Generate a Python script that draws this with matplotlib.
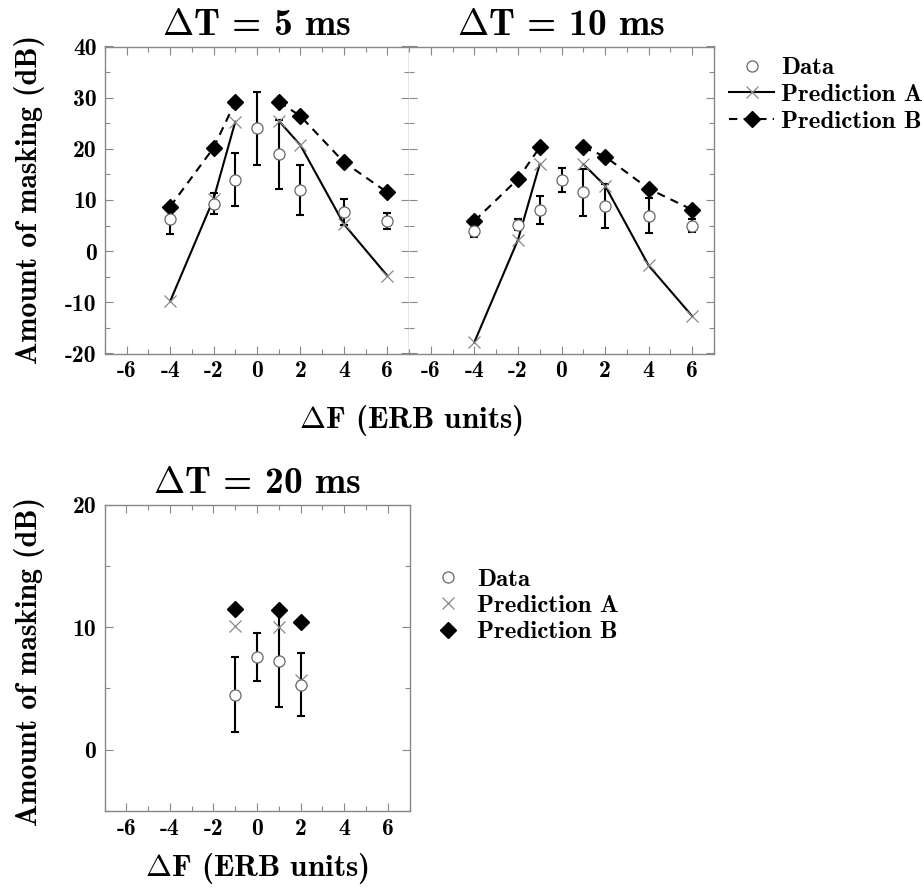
import numpy as np
import matplotlib
matplotlib.use("Agg")
import matplotlib.pyplot as plt
from matplotlib.lines import Line2D
from matplotlib.ticker import MultipleLocator

plt.rcParams["font.family"] = "cmb10"
plt.rcParams["mathtext.fontset"] = "cm"
plt.rcParams["axes.unicode_minus"] = False

# ----- data -----
df_vals = [-4, -2, -1, 0, 1, 2, 4, 6]

# dT = 5 ms
data5 = [6.2, 9.3, 14.0, 24.0, 18.9, 12.0, 7.7, 5.9]
err5 = [2.8, 2.0, 5.1, 7.1, 6.8, 4.9, 2.5, 1.5]
predA5 = [-9.8, 10.2, 25.3, np.nan, 25.5, 20.7, 5.3, -4.8]
predB5 = [8.7, 20.2, 29.2, np.nan, 29.2, 26.4, 17.4, 11.5]

# dT = 10 ms
data10 = [4.0, 5.2, 8.0, 13.9, 11.5, 8.9, 6.9, 5.0]
err10 = [1.3, 1.1, 2.7, 2.3, 4.6, 4.3, 3.4, 1.35]
predA10 = [-17.8, 2.2, 17.0, np.nan, 17.0, 12.8, -2.8, -12.7]
predB10 = [5.9, 14.1, 20.3, np.nan, 20.3, 18.5, 12.2, 8.1]

# dT = 20 ms
df20 = [-1, 0, 1, 2]
data20 = [4.5, 7.55, 7.27, 5.3]
err20 = [3.05, 1.95, 3.8, 2.55]
df20_pred = [-1, 1, 2]
predA20 = [10.1, 10.0, 5.7]
predB20 = [11.45, 11.4, 10.4]

GRAY = "#888888"
W, H = 922, 892


def px_axes(fig, left, top, width, height):
    return fig.add_axes([left / W, 1 - (top + height) / H, width / W, height / H])


def style_axes(ax, ylim, ymajor, yminor, show_ylabels=True):
    ax.set_xlim(-7, 7)
    ax.set_ylim(*ylim)
    ax.xaxis.set_major_locator(MultipleLocator(2))
    ax.xaxis.set_minor_locator(MultipleLocator(1))
    ax.yaxis.set_major_locator(MultipleLocator(ymajor))
    ax.yaxis.set_minor_locator(MultipleLocator(yminor))
    ax.tick_params(which="both", direction="in", top=True, right=True,
                   color=GRAY, width=0.8, labelsize=17)
    ax.tick_params(which="major", length=6)
    ax.tick_params(which="minor", length=3.5)
    ax.tick_params(axis="y", pad=6)
    ax.tick_params(axis="x", pad=5)
    if not show_ylabels:
        ax.tick_params(labelleft=False)
    for s in ax.spines.values():
        s.set_color(GRAY)
        s.set_linewidth(1.0)


def draw_panel(ax, data, err, predA, predB):
    ax.plot(df_vals, predA, color="black", linestyle="-", linewidth=1.5,
            marker="x", markersize=9, markeredgecolor=GRAY, markeredgewidth=0.9, zorder=3)
    ax.plot(df_vals, predB, color="black", linestyle="--", linewidth=1.5,
            dashes=(4, 3), marker="D", markersize=8, markerfacecolor="black",
            markeredgecolor="black", zorder=4)
    ax.errorbar(df_vals, data, yerr=err, fmt="none", ecolor="black",
                elinewidth=1.5, capsize=2.6, capthick=1.5, zorder=2)
    ax.plot(df_vals, data, linestyle="none", marker="o", markersize=8,
            markerfacecolor="white", markeredgecolor="#666666",
            markeredgewidth=0.9, zorder=5)


fig = plt.figure(figsize=(W / 100, H / 100), dpi=100)

ax1 = px_axes(fig, 105, 46.5, 304, 307)
ax2 = px_axes(fig, 409, 46.5, 305, 307)
ax3 = px_axes(fig, 104.5, 504.5, 305, 306.5)

draw_panel(ax1, data5, err5, predA5, predB5)
draw_panel(ax2, data10, err10, predA10, predB10)

# dT = 20 ms: markers only
ax3.errorbar(df20, data20, yerr=err20, fmt="none", ecolor="black",
             elinewidth=1.5, capsize=2.6, capthick=1.5, zorder=2)
ax3.plot(df20_pred, predA20, linestyle="none", marker="x", markersize=9,
         markeredgecolor=GRAY, markeredgewidth=0.9, zorder=3)
ax3.plot(df20_pred, predB20, linestyle="none", marker="D", markersize=8,
         color="black", zorder=4)
ax3.plot(df20, data20, linestyle="none", marker="o", markersize=8,
         markerfacecolor="white", markeredgecolor="#666666",
         markeredgewidth=0.9, zorder=5)

style_axes(ax1, (-20, 40), 10, 5)
style_axes(ax2, (-20, 40), 10, 5, show_ylabels=False)
style_axes(ax3, (-5, 20), 10, 5)
ax2.spines["left"].set_visible(False)

ax1.set_title(r"$\mathbf{\Delta}$T = 5 ms", fontsize=27, pad=8)
ax2.set_title(r"$\mathbf{\Delta}$T = 10 ms", fontsize=27, pad=8)
ax3.set_title(r"$\mathbf{\Delta}$T = 20 ms", fontsize=27, pad=8)

fig.text(30 / W, 1 - 199 / H, "Amount of masking (dB)", rotation=90,
         ha="center", va="center", fontsize=21.5)
fig.text(30 / W, 1 - 661 / H, "Amount of masking (dB)", rotation=90,
         ha="center", va="center", fontsize=21.5)
fig.text(411 / W, 1 - 421 / H, r"$\mathbf{\Delta}$F (ERB units)",
         ha="center", va="center", fontsize=22.5)
fig.text(257 / W, 1 - 869 / H, r"$\mathbf{\Delta}$F (ERB units)",
         ha="center", va="center", fontsize=22.5)

# legends
h_data = Line2D([], [], linestyle="none", marker="o", markersize=8,
                markerfacecolor="white", markeredgecolor="#666666", markeredgewidth=0.9)
h_a = Line2D([], [], color="black", linewidth=1.5, marker="x", markersize=9,
             markeredgecolor=GRAY, markeredgewidth=0.9)
h_b = Line2D([], [], color="black", linewidth=1.5, dashes=(4, 3), marker="D",
             markersize=8, markerfacecolor="black", markeredgecolor="black")
fig.legend([h_data, h_a, h_b], ["Data", "Prediction A", "Prediction B"],
           loc="upper left", bbox_to_anchor=(729 / W, 1 - 57 / H),
           frameon=False, fontsize=18, handlelength=1.8, handletextpad=0.28,
           labelspacing=0.16, borderpad=0, borderaxespad=0)

h_a2 = Line2D([], [], linestyle="none", marker="x", markersize=9,
              markeredgecolor=GRAY, markeredgewidth=0.9)
h_b2 = Line2D([], [], linestyle="none", marker="D", markersize=8, color="black")
fig.legend([h_data, h_a2, h_b2], ["Data", "Prediction A", "Prediction B"],
           loc="upper left", bbox_to_anchor=(425 / W, 1 - 568 / H),
           frameon=False, fontsize=18, handlelength=1.8, handletextpad=0.28,
           labelspacing=0.16, borderpad=0, borderaxespad=0)

fig.savefig("out.png", dpi=100)
